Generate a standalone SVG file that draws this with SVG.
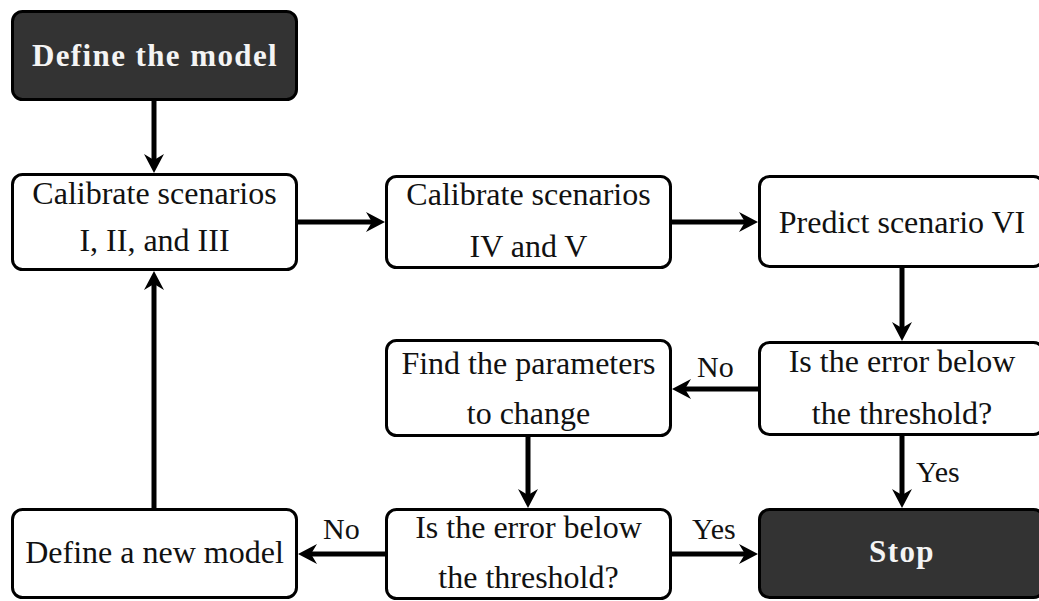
<svg xmlns="http://www.w3.org/2000/svg" width="1039" height="601" viewBox="0 0 1039 601">
<defs>
<style>
.box{fill:#ffffff;stroke:#000;stroke-width:3}
.dark{fill:#333333;stroke:#000;stroke-width:3}
.t{font-family:"Liberation Serif","Times New Roman",serif;font-size:32px;fill:#111;text-anchor:middle}
.tb{font-family:"Liberation Serif","Times New Roman",serif;font-size:31px;font-weight:bold;fill:#f4f4f4;text-anchor:middle;letter-spacing:1.4px}
.lbl{font-family:"Liberation Serif","Times New Roman",serif;font-size:30px;fill:#111}
.c{fill:none;stroke:#000;stroke-width:5;marker-end:url(#ah)}
</style>
<marker id="ah" markerUnits="userSpaceOnUse" markerWidth="22" markerHeight="22" viewBox="0 -11 22 22" refX="6" refY="0" orient="auto" overflow="visible">
<path d="M0 -10 L19 0 L0 10 L6 0 Z" fill="#000"/>
</marker>
</defs>
<rect width="1039" height="601" fill="#ffffff"/>
<g id="connectors">
<path class="c" d="M154 101 V160"/>
<path class="c" d="M298 222 H372"/>
<path class="c" d="M672 222 H745"/>
<path class="c" d="M902 268 V328"/>
<path class="c" d="M758 389 H685"/>
<path class="c" d="M902 436 V495"/>
<path class="c" d="M528 437 V495"/>
<path class="c" d="M385 554 H311"/>
<path class="c" d="M672 554 H745"/>
<path class="c" d="M154 508 V284"/>
<text class="lbl" x="697" y="377">No</text>
<text class="lbl" x="916" y="482">Yes</text>
<text class="lbl" x="323" y="539">No</text>
<text class="lbl" x="692" y="539">Yes</text>
</g>
<g id="define-model">
<rect class="dark" x="12.5" y="11.5" width="284" height="88" rx="10"/>
<text class="tb" x="155" y="66">Define the model</text>
</g>
<g id="calibrate-1-3">
<rect class="box" x="12.5" y="174.5" width="284" height="95" rx="10"/>
<text class="t" x="154.5" y="204">Calibrate scenarios</text>
<text class="t" x="154.5" y="251">I, II, and III</text>
</g>
<g id="calibrate-4-5">
<rect class="box" x="386.5" y="176.5" width="284" height="91" rx="10"/>
<text class="t" x="528.5" y="205">Calibrate scenarios</text>
<text class="t" x="528.5" y="257">IV and V</text>
</g>
<g id="predict-6">
<rect class="box" x="759.5" y="176.5" width="284" height="90" rx="10"/>
<text class="t" x="902" y="233">Predict scenario VI</text>
</g>
<g id="check-error-1">
<rect class="box" x="759.5" y="342.5" width="284" height="92" rx="10"/>
<text class="t" x="902" y="372">Is the error below</text>
<text class="t" x="902" y="424">the threshold?</text>
</g>
<g id="find-parameters">
<rect class="box" x="386.5" y="340.5" width="284" height="95" rx="10"/>
<text class="t" x="528.5" y="374">Find the parameters</text>
<text class="t" x="528.5" y="424">to change</text>
</g>
<g id="check-error-2">
<rect class="box" x="386.5" y="509.5" width="284" height="89" rx="10"/>
<text class="t" x="528.5" y="538">Is the error below</text>
<text class="t" x="528.5" y="588">the threshold?</text>
</g>
<g id="define-new-model">
<rect class="box" x="12.5" y="509.5" width="284" height="88" rx="10"/>
<text class="t" x="154.5" y="563">Define a new model</text>
</g>
<g id="stop">
<rect class="dark" x="759.5" y="509.5" width="284" height="88" rx="10"/>
<text class="tb" x="902" y="562">Stop</text>
</g>
</svg>
